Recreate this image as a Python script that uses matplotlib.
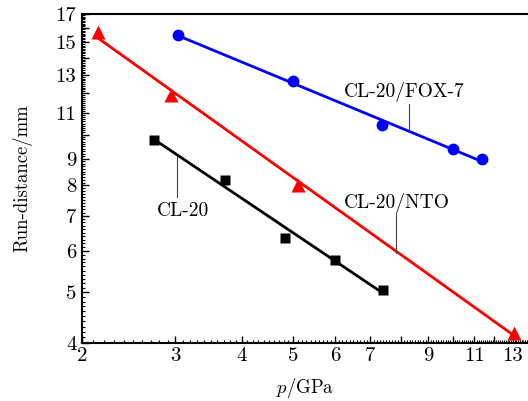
import numpy as np
import matplotlib
matplotlib.use('Agg')
import matplotlib.pyplot as plt
import matplotlib.ticker as ticker

plt.rcParams['font.family'] = ['cmr10', 'DejaVu Serif']
plt.rcParams['mathtext.fontset'] = 'cm'
plt.rcParams['axes.unicode_minus'] = False
plt.rcParams['axes.formatter.use_mathtext'] = True

# 圧力 p / GPa と run-distance / mm
p_cl20 = [2.74, 3.73, 4.83, 6.00, 7.40]
d_cl20 = [9.76, 8.18, 6.36, 5.75, 5.05]

p_nto = [2.14, 2.95, 5.11, 13.06]
d_nto = [15.7, 11.89, 8.03, 4.18]

p_fox = [3.03, 5.01, 7.35, 10.01, 11.36]
d_fox = [15.49, 12.65, 10.42, 9.40, 8.97]

xticks = [2, 3, 4, 5, 6, 7, 9, 11, 13]
yticks = [4, 5, 6, 7, 8, 9, 11, 13, 15, 17]

fig = plt.figure(figsize=(5.28, 4.01), dpi=100)
ax = fig.add_axes([82 / 528, 58 / 401, 446 / 528, 329 / 401])


def fit_line(p, d):
    # 両対数でフィットした直線
    k, b = np.polyfit(np.log10(p), np.log10(d), 1)
    xs = np.array([min(p), max(p)])
    return xs, 10 ** (k * np.log10(xs) + b)


for p, d, c, m, ms in [(p_fox, d_fox, '#0000ff', 'o', 8.5),
                       (p_nto, d_nto, '#ff0000', '^', 10),
                       (p_cl20, d_cl20, 'black', 's', 7)]:
    xs, ys = fit_line(p, d)
    ax.plot(xs, ys, color=c, lw=2)
    ax.plot(p, d, m, color=c, ms=ms, mec='none')

ax.set_xscale('log')
ax.set_yscale('log')
ax.set_xlim(2, 13.88)
ax.set_ylim(4, 17)

ax.xaxis.set_major_locator(ticker.FixedLocator(np.arange(2, 14)))
ax.xaxis.set_minor_locator(ticker.FixedLocator(np.arange(2, 13.9, 0.1)))
ax.yaxis.set_major_locator(ticker.FixedLocator(np.arange(4, 18)))
ax.yaxis.set_minor_locator(ticker.FixedLocator(np.arange(4, 17, 0.1)))


def lab(ticks):
    return ticker.FuncFormatter(lambda v, pos: str(int(round(v))) if int(round(v)) in ticks else '')


ax.xaxis.set_major_formatter(lab(xticks))
ax.yaxis.set_major_formatter(lab(yticks))
ax.xaxis.set_minor_formatter(ticker.NullFormatter())
ax.yaxis.set_minor_formatter(ticker.NullFormatter())

ax.tick_params(which='major', direction='in', length=5, width=1, labelsize=15)
ax.tick_params(axis='x', which='major', pad=3)
ax.tick_params(axis='y', which='major', pad=4)
ax.tick_params(which='minor', direction='in', length=2.5, width=0.8)
ax.tick_params(top=False, right=False)
ax.spines['right'].set_visible(False)
for s in ['left', 'bottom', 'top']:
    ax.spines[s].set_linewidth(1.5)

ax.set_xlabel(r'$p$/GPa', fontsize=13.5, labelpad=8)
ax.set_ylabel('Run-distance/mm', fontsize=13.5, labelpad=17)

# 注釈: (文字, 文字の位置, 引き出し線 x, 線の上端, 線の下端)
notes = [('CL-20/FOX-7', 8.1, 12.08, 8.26, 11.45, 10.19),
         ('CL-20/NTO', 7.84, 7.41, 7.84, 7.07, 5.93),
         ('CL-20', 3.10, 7.16, 3.02, 9.07, 7.61)]
for txt, tx, ty, lx, y1, y2 in notes:
    ax.text(tx, ty, txt, fontsize=14, ha='center', va='center')
    ax.plot([lx, lx], [y1, y2], color='#444444', lw=0.8)

fig.savefig('out.png', dpi=100)
